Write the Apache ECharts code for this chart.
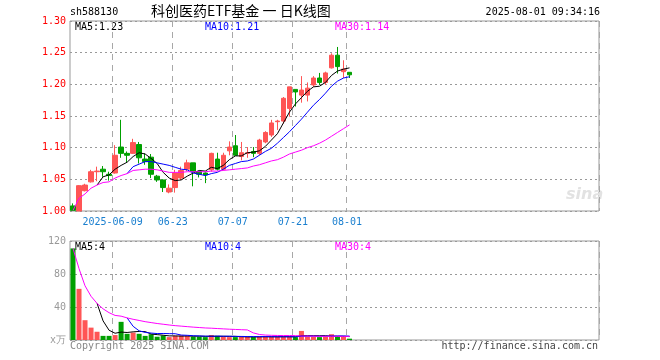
<!DOCTYPE html>
<html><head><meta charset="utf-8">
<script src="https://cdn.jsdelivr.net/npm/echarts@6/dist/echarts.min.js"></script>
<style>html,body{margin:0;padding:0;background:#fff}#c{width:660px;height:360px}</style>
</head><body><div id="c"></div>
<script>
const dates = ['2025-05-28','2025-05-29','2025-05-30','2025-06-03','2025-06-04','2025-06-05','2025-06-06',
'2025-06-09','2025-06-10','2025-06-11','2025-06-12','2025-06-13','2025-06-16','2025-06-17','2025-06-18','2025-06-19','2025-06-20',
'2025-06-23','2025-06-24','2025-06-25','2025-06-26','2025-06-27','2025-06-30','2025-07-01','2025-07-02','2025-07-03','2025-07-04',
'2025-07-07','2025-07-08','2025-07-09','2025-07-10','2025-07-11','2025-07-14','2025-07-15','2025-07-16','2025-07-17','2025-07-18',
'2025-07-21','2025-07-22','2025-07-23','2025-07-24','2025-07-25','2025-07-28','2025-07-29','2025-07-30','2025-07-31','2025-08-01'];
const openP  = [1.008,1.000,1.032,1.046,1.062,1.066,1.058,1.060,1.101,1.091,1.091,1.105,1.082,1.085,1.055,1.049,1.030,1.037,1.052,1.066,1.076,1.062,1.060,1.065,1.082,1.066,1.095,1.103,1.086,1.091,1.094,1.091,1.109,1.120,1.141,1.142,1.162,1.192,1.183,1.183,1.199,1.210,1.203,1.226,1.246,1.220,1.219];
const closeP = [1.001,1.040,1.041,1.062,1.063,1.062,1.056,1.088,1.091,1.088,1.108,1.084,1.078,1.058,1.049,1.037,1.036,1.060,1.064,1.076,1.062,1.058,1.057,1.091,1.066,1.088,1.101,1.088,1.092,1.092,1.091,1.112,1.124,1.139,1.142,1.178,1.196,1.188,1.191,1.194,1.210,1.203,1.218,1.246,1.228,1.224,1.215];
const lowP   = [1.000,1.000,1.031,1.045,1.047,1.054,1.048,1.059,1.084,1.076,1.090,1.075,1.073,1.052,1.046,1.030,1.028,1.029,1.049,1.063,1.039,1.053,1.044,1.062,1.064,1.064,1.088,1.088,1.080,1.084,1.085,1.088,1.107,1.117,1.128,1.138,1.149,1.165,1.171,1.173,1.196,1.199,1.199,1.225,1.217,1.210,1.210];
const highP  = [1.012,1.041,1.043,1.065,1.070,1.071,1.062,1.104,1.144,1.094,1.114,1.109,1.091,1.090,1.057,1.050,1.042,1.065,1.070,1.081,1.076,1.062,1.061,1.092,1.092,1.092,1.110,1.120,1.109,1.101,1.101,1.114,1.126,1.144,1.144,1.180,1.196,1.192,1.213,1.203,1.213,1.218,1.220,1.249,1.259,1.238,1.219];
const ma5  = [null,null,null,null,1.041,1.054,1.057,1.066,1.072,1.077,1.086,1.092,1.090,1.083,1.075,1.061,1.052,1.048,1.049,1.055,1.060,1.064,1.063,1.069,1.067,1.072,1.081,1.087,1.087,1.092,1.093,1.095,1.102,1.112,1.122,1.139,1.156,1.169,1.179,1.189,1.196,1.197,1.203,1.214,1.221,1.224,1.226];
const ma10 = [null,null,null,null,null,null,null,null,null,1.059,1.070,1.074,1.078,1.078,1.076,1.074,1.072,1.069,1.066,1.065,1.060,1.058,1.056,1.059,1.061,1.066,1.072,1.075,1.078,1.079,1.082,1.088,1.094,1.099,1.107,1.116,1.125,1.135,1.145,1.156,1.167,1.176,1.186,1.197,1.205,1.210,1.212];
const ma30 = [1.001,1.020,1.027,1.036,1.041,1.045,1.046,1.052,1.056,1.059,1.064,1.065,1.066,1.066,1.065,1.063,1.061,1.061,1.061,1.062,1.062,1.062,1.062,1.063,1.063,1.064,1.065,1.066,1.067,1.068,1.071,1.073,1.076,1.079,1.081,1.085,1.090,1.093,1.096,1.100,1.103,1.107,1.112,1.118,1.124,1.130,1.136];
const volume = [111,62,24,15,10,5,5,6,22,7.5,9,7.5,5,7,4,5.5,3.5,5,5.5,5,4,4,3.5,6,5,4,3.5,3.5,4,4,3.5,4,4,4,4,4,4,3.5,11,4,4,3.5,4,7,4,4,1.6];
const volMa5  = [null,null,null,null,44.4,23.2,11.8,8.2,9.6,9.1,9.9,10.4,10.2,7.2,6.5,5.8,5.0,5.0,4.7,4.9,4.6,4.7,4.4,4.5,4.5,4.5,4.4,4.4,4.0,3.8,3.7,3.8,3.9,3.9,3.9,4.0,4.0,3.9,5.3,5.3,5.3,5.2,5.3,4.5,4.5,4.5,4.1];
const volMa10 = [null,null,null,null,null,null,null,null,null,26.8,16.6,11.1,9.2,8.4,7.8,7.9,7.7,7.6,6.0,5.7,5.2,4.9,4.7,4.6,4.7,4.6,4.6,4.4,4.3,4.2,4.1,4.1,4.2,4.0,3.9,3.9,3.9,3.9,4.6,4.6,4.7,4.6,4.6,4.9,4.9,4.9,4.7];
const volMa30 = [111,86.5,65.7,53,44.4,37.8,33.1,29.8,28.9,26.8,25.1,23.7,22.2,21.1,20,19.1,18.2,17.4,16.8,16.2,15.6,15.1,14.6,14.3,13.9,13.5,13.1,12.8,12.5,12.2,8.6,6.7,6.0,5.7,5.5,5.4,5.4,5.3,4.9,4.8,4.7,4.5,4.5,4.5,4.5,4.4,4.4];
const tickDates  = ['2025-06-09','2025-06-23','2025-07-07','2025-07-21','2025-08-01'];
const tickLabels = ['2025-06-09','06-23','07-07','07-21','08-01'];
const priceTicks = {min:1.00, max:1.30, step:0.05};
const volTicks = {min:0, max:120, step:40};
const volUnit = 'x万';
const maTexts = ['MA5:1.23','MA10:1.21','MA30:1.14'];
const volMaTexts = ['MA5:4','MA10:4','MA30:4'];

const TOTAL_SLOTS = 88;
const cats = dates.slice();
for (let i = dates.length; i < TOTAL_SLOTS; i++) cats.push('pad' + i);
const UP = '#ff5555', DOWN = '#00a000';
const MONO = 'DejaVu Sans Mono';
const isTick = (idx, val) => tickDates.indexOf(val) >= 0;

const kData = dates.map((d, i) => [openP[i], closeP[i], lowP[i], highP[i]]);
const volData = volume.map((v, i) => ({value: v, itemStyle: {color: closeP[i] >= openP[i] ? UP : DOWN}}));

const xBase = (gi, showLabel) => ({
  type: 'category', gridIndex: gi, data: cats, boundaryGap: true,
  axisLine: {show: false}, axisTick: {show: false},
  axisLabel: {show: showLabel, interval: isTick, formatter: v => tickLabels[tickDates.indexOf(v)] || '',
    color: '#1a7fcf', fontFamily: MONO, fontSize: 10, margin: 6, padding: [0, 5, 0, 0]},
  splitLine: {show: true, interval: isTick, lineStyle: {color: '#a8a8a8', type: [6, 5], width: 1}}
});

const chart = echarts.init(document.getElementById('c'), null, {renderer: 'canvas'});
chart.setOption({
  animation: false,
  backgroundColor: '#fff',
  grid: [
    {left: 70, right: 61, top: 21, height: 190, show: true, borderColor: '#999', borderWidth: 1, backgroundColor: 'transparent'},
    {left: 70, right: 61, top: 241, height: 99, show: true, borderColor: '#999', borderWidth: 1, backgroundColor: 'transparent'}
  ],
  xAxis: [xBase(0, true), xBase(1, false)],
  yAxis: [
    {type: 'value', gridIndex: 0, min: priceTicks.min, max: priceTicks.max, interval: priceTicks.step,
     axisLine: {show: false}, axisTick: {show: false},
     axisLabel: {color: '#ff0000', fontFamily: MONO, fontSize: 10, margin: 4, formatter: v => v.toFixed(2)},
     splitLine: {lineStyle: {color: '#999', type: [2, 3]}}},
    {type: 'value', gridIndex: 1, min: volTicks.min, max: volTicks.max, interval: volTicks.step,
     axisLine: {show: false}, axisTick: {show: false},
     axisLabel: {color: '#999', fontFamily: MONO, fontSize: 10, margin: 4, formatter: v => v === 0 ? volUnit : String(v)},
     splitLine: {lineStyle: {color: '#999', type: [2, 3]}}}
  ],
  series: [
    {type: 'candlestick', xAxisIndex: 0, yAxisIndex: 0, data: kData, barWidth: 5,
     itemStyle: {color: UP, color0: DOWN, borderColor: UP, borderColor0: DOWN, borderWidth: 1}},
    {type: 'line', xAxisIndex: 0, yAxisIndex: 0, data: ma5, symbol: 'none', lineStyle: {color: '#000', width: 1}},
    {type: 'line', xAxisIndex: 0, yAxisIndex: 0, data: ma10, symbol: 'none', lineStyle: {color: '#0000ff', width: 1}},
    {type: 'line', xAxisIndex: 0, yAxisIndex: 0, data: ma30, symbol: 'none', lineStyle: {color: '#ff00ff', width: 1}},
    {type: 'bar', xAxisIndex: 1, yAxisIndex: 1, data: volData, barWidth: 5},
    {type: 'line', xAxisIndex: 1, yAxisIndex: 1, data: volMa5, symbol: 'none', lineStyle: {color: '#000', width: 1}},
    {type: 'line', xAxisIndex: 1, yAxisIndex: 1, data: volMa10, symbol: 'none', lineStyle: {color: '#0000ff', width: 1}},
    {type: 'line', xAxisIndex: 1, yAxisIndex: 1, data: volMa30, symbol: 'none', lineStyle: {color: '#ff00ff', width: 1}}
  ],
  graphic: [
    {type: 'text', left: 70, top: 7, style: {text: 'sh588130', font: '10px ' + MONO, fill: '#000'}},
    {type: 'text', left: 151, top: 4, style: {text: '科创医药ETF基金 一 日K线图', font: '14px "Noto Sans CJK SC"', fill: '#000'}},
    {type: 'text', right: 60, top: 7, style: {text: '2025-08-01 09:34:16', font: '10px ' + MONO, fill: '#000'}},
    {type: 'text', left: 75, top: 22, style: {text: maTexts[0], font: '10px ' + MONO, fill: '#000'}},
    {type: 'text', left: 205, top: 22, style: {text: maTexts[1], font: '10px ' + MONO, fill: '#0000ff'}},
    {type: 'text', left: 335, top: 22, style: {text: maTexts[2], font: '10px ' + MONO, fill: '#ff00ff'}},
    {type: 'text', left: 75, top: 242, style: {text: volMaTexts[0], font: '10px ' + MONO, fill: '#000'}},
    {type: 'text', left: 205, top: 242, style: {text: volMaTexts[1], font: '10px ' + MONO, fill: '#0000ff'}},
    {type: 'text', left: 335, top: 242, style: {text: volMaTexts[2], font: '10px ' + MONO, fill: '#ff00ff'}},
    {type: 'text', left: 566, top: 187, style: {text: 'sina', font: 'italic bold 16px "DejaVu Sans"', fill: '#e2e2e2'}},
    {type: 'text', left: 70, top: 341, style: {text: 'Copyright 2025 SINA.COM', font: '10px ' + MONO, fill: '#888'}},
    {type: 'text', right: 62, top: 341, style: {text: 'http://finance.sina.com.cn', font: '10px ' + MONO, fill: '#444'}}
  ]
});
</script></body></html>
